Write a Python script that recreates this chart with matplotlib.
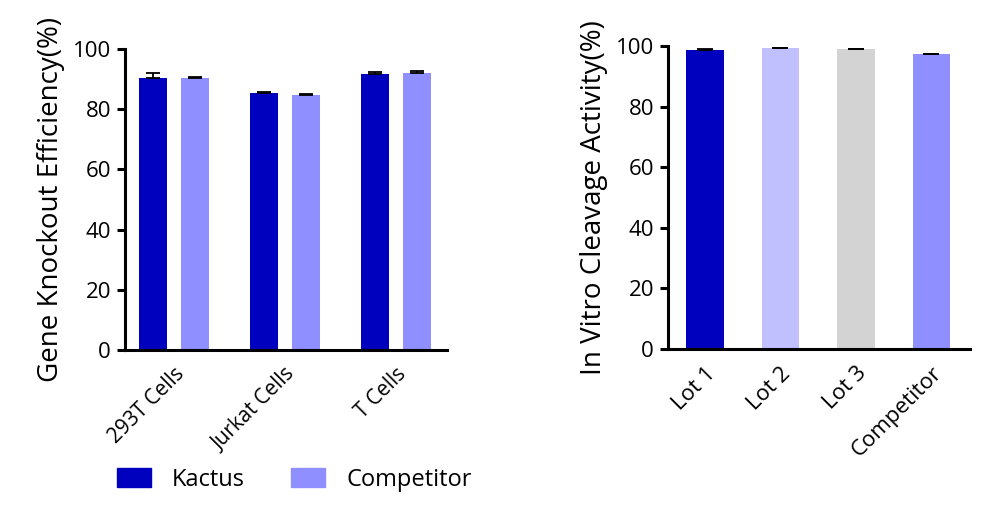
import matplotlib
matplotlib.use("Agg")
import matplotlib.pyplot as plt
import numpy as np
from matplotlib.patches import Patch

# left panel: gene knockout efficiency
cells = ["293T Cells", "Jurkat Cells", "T Cells"]
kactus_ko = [90.4, 85.5, 91.8]
kactus_ko_err = [1.5, 0.3, 0.7]
competitor_ko = [90.3, 84.6, 92.0]
competitor_ko_err = [0.5, 0.5, 0.8]

# right panel: in vitro cleavage activity
lots = ["Lot 1", "Lot 2", "Lot 3", "Competitor"]
cleavage = [98.8, 99.2, 98.9, 97.2]
cleavage_err = [0.3, 0.2, 0.2, 0.3]

dark = "#0000BF"
mid = "#8F8FFF"
light = "#C0C0FF"
grey = "#D3D3D3"

plt.rcParams["font.family"] = ["Open Sans", "DejaVu Sans"]

fig = plt.figure(figsize=(10, 5.17), dpi=100)
ax1 = fig.add_axes([0.125, 0.323, 0.322, 0.582])
ax2 = fig.add_axes([0.668, 0.325, 0.302, 0.586])

ekw = dict(capsize=5, elinewidth=1.3, capthick=1.3, ecolor="black")

x = np.arange(len(cells))
w = 0.252
off = 0.189
ax1.bar(x - off, kactus_ko, w, color=dark, yerr=[[0] * 3, kactus_ko_err], error_kw=ekw)
ax1.bar(x + off, competitor_ko, w, color=mid, yerr=[[0] * 3, competitor_ko_err], error_kw=ekw)
ax1.set_xlim(-0.441, 2.459)
ax1.set_ylabel("Gene Knockout Efficiency(%)", fontsize=20, labelpad=6)

x2 = np.arange(len(lots))
ax2.bar(x2, cleavage, 0.5, color=[dark, light, grey, mid],
        yerr=[[0] * 4, cleavage_err], error_kw=dict(ekw, capsize=5.5))
ax2.set_xlim(-0.49, 3.51)
ax2.set_ylabel("In Vitro Cleavage Activity(%)", fontsize=20, labelpad=6)

for ax, labels, xs, fs in [(ax1, cells, x, 15), (ax2, lots, x2, 16)]:
    ax.set_ylim(0, 100)
    ax.set_yticks(range(0, 101, 20))
    ax.set_xticks(xs)
    ax.set_xticklabels(labels, rotation=45, ha="right", rotation_mode="anchor",
                       fontsize=fs)
    ax.tick_params(axis="x", length=0, pad=10)
    ax.tick_params(axis="y", length=6, width=2.2, labelsize=16, pad=4)
    for s in ["top", "right"]:
        ax.spines[s].set_visible(False)
    for s in ["left", "bottom"]:
        ax.spines[s].set_linewidth(2.2)

handles = [Patch(color=dark, label="Kactus"), Patch(color=mid, label="Competitor")]
fig.legend(handles=handles, loc="center left", bbox_to_anchor=(0.117, 0.072),
           ncol=2, frameon=False, fontsize=17, handlelength=1.44, handleheight=0.85,
           columnspacing=1.95, handletextpad=0.9, borderpad=0, borderaxespad=0)

fig.savefig("out.png", dpi=100)
